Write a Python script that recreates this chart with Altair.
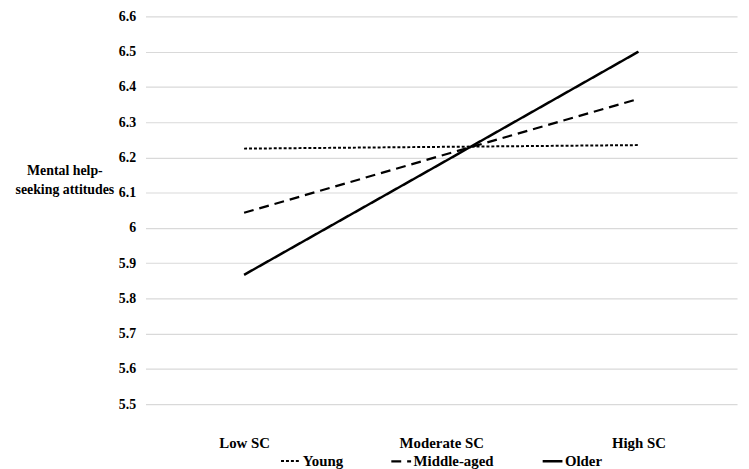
import altair as alt
import pandas as pd

categories = ["Low SC", "Moderate SC", "High SC"]
series = ["Young", "Middle-aged", "Older"]
young = [6.225, 6.230, 6.235]
middle = [6.043, 6.205, 6.366]
older = [5.867, 6.183, 6.500]
y_ticks = [5.5, 5.6, 5.7, 5.8, 5.9, 6.0, 6.1, 6.2, 6.3, 6.4, 6.5, 6.6]

rows = []
for name, vals in zip(series, [young, middle, older]):
    for c, v in zip(categories, vals):
        rows.append({"SC": c, "value": v, "group": name})
df = pd.DataFrame(rows)

FONT = "'Liberation Serif', 'Times New Roman', Times, serif"

chart = alt.Chart(df).mark_line(color="black").encode(
    x=alt.X("SC:O", sort=categories, scale=alt.Scale(padding=0.5),
            axis=alt.Axis(title=None, labelAngle=0, domain=False, ticks=False,
                          labelPadding=32, labelFont=FONT, labelFontSize=15,
                          labelFontWeight="bold", labelColor="black")),
    y=alt.Y("value:Q", scale=alt.Scale(domain=[5.5, 6.6], nice=False, zero=False),
            axis=alt.Axis(values=y_ticks, format=".1~f", domain=False, ticks=False,
                          grid=True, gridColor="#d9d9d9", gridWidth=1.2,
                          labelPadding=10, labelFont=FONT, labelFontSize=14,
                          labelFontWeight="bold", labelColor="black",
                          title=["Mental help-", "seeking attitudes"],
                          titleAngle=0, titleX=-82, titleY=156,
                          titleAlign="center", titleBaseline="middle",
                          titleFont=FONT, titleFontSize=14, titleFontWeight="bold",
                          titleColor="black", titleLineHeight=19)),
    strokeDash=alt.StrokeDash("group:N",
                              scale=alt.Scale(domain=series, range=[[3, 2], [10, 6], [1, 0]]),
                              legend=alt.Legend(title=None, orient="none", direction="horizontal",
                                                legendX=136, legendY=438,
                                                symbolType="stroke", symbolSize=400,
                                                symbolStrokeColor="black", symbolStrokeWidth=2,
                                                labelFont=FONT, labelFontSize=15,
                                                labelFontWeight="bold", labelColor="black",
                                                labelOffset=1, columnPadding=44)),
    strokeWidth=alt.StrokeWidth("group:N",
                                scale=alt.Scale(domain=series, range=[2, 2.5, 3]),
                                legend=None),
    detail="group:N",
).properties(
    width=598, height=392,
    autosize=alt.AutoSizeParams(type="none"),
    padding={"left": 139, "top": 6, "right": 4, "bottom": 63},
).configure_view(stroke=None)

chart.save("out.html", embed_options={"renderer": "svg", "actions": False})
